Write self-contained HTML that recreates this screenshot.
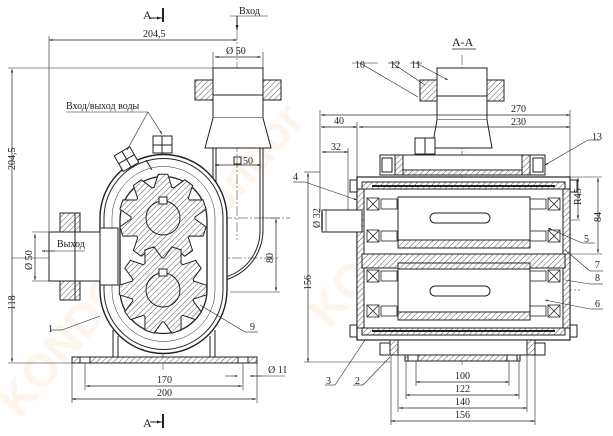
<!DOCTYPE html>
<html><head><meta charset="utf-8"><style>
html,body{margin:0;padding:0;background:#fff}
svg{display:block}
text{font-family:"Liberation Serif",serif;font-size:10px;fill:#222}
</style></head><body>
<svg id="s" width="613" height="436" viewBox="0 0 613 436" xmlns="http://www.w3.org/2000/svg">
<defs>
<pattern id="h" width="4" height="4" patternUnits="userSpaceOnUse" patternTransform="rotate(45)">
<rect width="4" height="4" fill="#fff"/><line x1="0" y1="0" x2="0" y2="4" stroke="#444" stroke-width="0.9"/></pattern>
<marker id="a" viewBox="0 0 10 10" refX="10" refY="5" markerWidth="7" markerHeight="5" orient="auto-start-reverse"><path d="M0,2 L10,5 L0,8z" fill="#222"/></marker>
</defs>
<g opacity="0.08" fill="#f08020" font-family="Liberation Sans" font-weight="bold">
<text x="0" y="0" transform="translate(20,420) rotate(-50)" style="font-size:46px;fill:#f08020;font-family:Liberation Sans">KONDOR.ru</text>
<text x="0" y="0" transform="translate(330,330) rotate(-50)" style="font-size:46px;fill:#f08020;font-family:Liberation Sans">KONDOR.ru</text>
<text x="0" y="0" transform="translate(130,330) rotate(-50)" style="font-size:46px;fill:#f08020;font-family:Liberation Sans">www.kondor</text>
</g>
<g stroke="#222" fill="none" stroke-width="1">
<line x1="163" y1="8" x2="163" y2="22" stroke-width="2"/>
<line x1="150" y1="18" x2="162" y2="18" marker-end="url(#a)"/>
<line x1="163" y1="414" x2="163" y2="428" stroke-width="2"/>
<line x1="150" y1="422" x2="162" y2="422" marker-end="url(#a)"/>
<line x1="237" y1="16" x2="237" y2="30" marker-end="url(#a)"/>
<line x1="230" y1="16" x2="268" y2="16" stroke-width="0.6"/>
<line x1="49" y1="40" x2="237" y2="40" marker-start="url(#a)" marker-end="url(#a)" stroke-width="0.7"/>
<line x1="49" y1="36" x2="49" y2="240" stroke-width="0.6"/>
<line x1="215" y1="57" x2="261" y2="57" marker-start="url(#a)" marker-end="url(#a)" stroke-width="0.7"/>
<line x1="213" y1="52" x2="213" y2="68" stroke-width="0.6"/><line x1="263" y1="52" x2="263" y2="68" stroke-width="0.6"/>
<line x1="8" y1="68" x2="213" y2="68" stroke-width="0.6"/>
<line x1="12" y1="69" x2="12" y2="362" marker-start="url(#a)" marker-end="url(#a)" stroke-width="0.7"/>
<line x1="8" y1="363" x2="72" y2="363" stroke-width="0.6"/>
<line x1="12" y1="258" x2="40" y2="258" stroke-width="0.6"/>
<line x1="35" y1="234" x2="35" y2="280" marker-start="url(#a)" marker-end="url(#a)" stroke-width="0.7"/>
<line x1="32" y1="232" x2="49" y2="232" stroke-width="0.6"/><line x1="32" y1="281" x2="49" y2="281" stroke-width="0.6"/>
<line x1="276" y1="219" x2="276" y2="291" marker-start="url(#a)" marker-end="url(#a)" stroke-width="0.7"/>
<line x1="263" y1="218" x2="280" y2="218" stroke-width="0.6"/><line x1="230" y1="292" x2="280" y2="292" stroke-width="0.6"/>
<line x1="215" y1="165" x2="261" y2="165" marker-start="url(#a)" marker-end="url(#a)" stroke-width="0.7"/>
<line x1="86" y1="386" x2="242" y2="386" marker-start="url(#a)" marker-end="url(#a)" stroke-width="0.7"/>
<line x1="72" y1="399" x2="256" y2="399" marker-start="url(#a)" marker-end="url(#a)" stroke-width="0.7"/>
<line x1="85" y1="360" x2="85" y2="390" stroke-width="0.6"/><line x1="243" y1="360" x2="243" y2="390" stroke-width="0.6"/>
<line x1="72" y1="363" x2="72" y2="403" stroke-width="0.6"/><line x1="257" y1="363" x2="257" y2="403" stroke-width="0.6"/>
<line x1="225" y1="376" x2="238" y2="376" marker-end="url(#a)" stroke-width="0.6"/>
<line x1="262" y1="376" x2="250" y2="376" marker-end="url(#a)" stroke-width="0.6"/>
<line x1="250" y1="376" x2="285" y2="376" stroke-width="0.6"/>
<g stroke-dasharray="10 2 2 2" stroke-width="0.5">
<line x1="237" y1="30" x2="237" y2="240"/><line x1="163" y1="140" x2="163" y2="370"/>
<line x1="40" y1="258" x2="280" y2="258"/><line x1="110" y1="218" x2="290" y2="218"/>
<line x1="110" y1="290" x2="220" y2="290"/>
<line x1="462" y1="55" x2="462" y2="365"/>
<line x1="330" y1="220" x2="580" y2="220"/><line x1="370" y1="290" x2="580" y2="290"/>
</g>
<rect x="213" y="68" width="50" height="50" fill="#fff"/>
<rect x="195" y="80" width="18" height="20" fill="url(#h)"/><rect x="263" y="80" width="18" height="20" fill="url(#h)"/>
<line x1="213" y1="95" x2="263" y2="95"/>
<path d="M213,118 L205,148 L271,148 L263,118" fill="#fff"/>
<path d="M213,148 L213,230 M263,148 L263,230 M216,148 L216,230 M260,148 L260,232"/>
<path d="M263,230 A52,52 0 0 1 211,282 M260,232 A48,48 0 0 1 212,279"/>
<rect x="234" y="157" width="7" height="7"/>
<path d="M100,218 A63,63 0 0 1 227,218 L227,290 A63,63 0 0 1 100,290 Z" stroke-width="1.4" fill="#fff"/>
<path d="M104,218 A59,59 0 0 1 223,218 L223,290 A59,59 0 0 1 104,290 Z"/>
<path d="M112,218 A51,51 0 0 1 215,218 L215,290 A51,51 0 0 1 112,290 Z" stroke-width="0.5"/>
<path d="M120,220 A43,43 0 0 1 207,220 L207,290 A43,43 0 0 1 120,290 Z" stroke-width="1.3"/>
<path d="M146,160 L152,170" stroke-width="1"/>
<rect x="153" y="136" width="19" height="17" fill="#fff"/><line x1="162" y1="136" x2="162" y2="153"/><line x1="153" y1="145" x2="172" y2="145"/>
<g transform="translate(127,160) rotate(-30)"><rect x="-9" y="-10" width="18" height="18" fill="#fff"/><line x1="0" y1="-10" x2="0" y2="8"/><line x1="-9" y1="-1" x2="9" y2="-1"/></g>
<line x1="66" y1="112" x2="148" y2="112" stroke-width="0.6"/>
<line x1="148" y1="112" x2="127" y2="150" marker-end="url(#a)" stroke-width="0.6"/>
<line x1="148" y1="112" x2="162" y2="134" marker-end="url(#a)" stroke-width="0.6"/>
<rect x="49" y="232" width="51" height="49" fill="#fff"/>
<rect x="100" y="228" width="18" height="57" fill="#fff"/>
<rect x="60" y="213" width="20" height="19" fill="url(#h)"/><rect x="60" y="281" width="20" height="19" fill="url(#h)"/>
<line x1="75" y1="213" x2="75" y2="300"/>
<line x1="42" y1="251" x2="85" y2="251" stroke-width="0.6"/>
<line x1="55" y1="251" x2="42" y2="251" marker-end="url(#a)" stroke-width="0.6"/>
<path d="M113,330 L113,357 M118,336 L118,357 M210,336 L210,357 M215,330 L215,357"/>
<rect x="72" y="357" width="185" height="6" fill="url(#h)"/>
<rect x="80" y="357" width="10" height="6" fill="#fff"/><rect x="238" y="357" width="10" height="6" fill="#fff"/>
<line x1="50" y1="330" x2="62" y2="330" stroke-width="0.6"/><line x1="62" y1="330" x2="100" y2="316" stroke-width="0.6"/>
<line x1="245" y1="332" x2="258" y2="332" stroke-width="0.6"/><line x1="245" y1="332" x2="200" y2="305" stroke-width="0.6"/>

<line x1="452" y1="49" x2="476" y2="49" stroke-width="0.7"/>
<rect x="437" y="68" width="50" height="52" fill="#fff"/>
<rect x="420" y="80" width="17" height="21" fill="url(#h)"/><rect x="487" y="80" width="17" height="21" fill="url(#h)"/>
<line x1="437" y1="96" x2="487" y2="96"/>
<path d="M437,120 L432,148 L492,148 L487,120" fill="#fff"/>
<rect x="415" y="138" width="20" height="16" fill="#fff"/><line x1="425" y1="138" x2="425" y2="154"/>
<line x1="352" y1="63" x2="378" y2="63" stroke-width="0.6"/><line x1="360" y1="63" x2="418" y2="97" stroke-width="0.6"/>
<line x1="388" y1="63" x2="400" y2="63" stroke-width="0.6"/><line x1="392" y1="63" x2="425" y2="85" stroke-width="0.6"/>
<line x1="410" y1="63" x2="422" y2="63" stroke-width="0.6"/><line x1="416" y1="63" x2="448" y2="80" marker-end="url(#a)" stroke-width="0.6"/>
<line x1="321" y1="115" x2="570" y2="115" marker-start="url(#a)" marker-end="url(#a)" stroke-width="0.7"/>
<line x1="321" y1="127" x2="357" y2="127" marker-start="url(#a)" marker-end="url(#a)" stroke-width="0.7"/>
<line x1="359" y1="127" x2="570" y2="127" marker-start="url(#a)" marker-end="url(#a)" stroke-width="0.7"/>
<line x1="322" y1="152" x2="348" y2="152" marker-start="url(#a)" marker-end="url(#a)" stroke-width="0.7"/>
<line x1="320" y1="110" x2="320" y2="212" stroke-width="0.6"/>
<line x1="357" y1="122" x2="357" y2="180" stroke-width="0.6"/>
<line x1="348" y1="148" x2="348" y2="212" stroke-width="0.6"/>
<line x1="570" y1="110" x2="570" y2="178" stroke-width="0.6"/>
<line x1="588" y1="140" x2="600" y2="140" stroke-width="0.6"/><line x1="588" y1="140" x2="545" y2="165" marker-end="url(#a)" stroke-width="0.6"/>
<rect x="380" y="155" width="165" height="20" fill="#fff"/>
<rect x="395" y="155" width="8" height="20" fill="url(#h)"/><rect x="522" y="155" width="8" height="20" fill="url(#h)"/>
<rect x="403" y="170" width="119" height="5" fill="url(#h)"/>
<rect x="382" y="158" width="10" height="14"/><rect x="533" y="158" width="10" height="14"/>
<rect x="357" y="177" width="213" height="163" fill="#fff" stroke-width="1.2"/>
<rect x="362" y="182" width="203" height="153" stroke-width="0.7"/>
<rect x="362" y="182" width="203" height="7" fill="url(#h)"/>
<rect x="362" y="328" width="203" height="7" fill="url(#h)"/>
<rect x="357" y="189" width="7" height="139" fill="url(#h)"/><rect x="563" y="189" width="7" height="139" fill="url(#h)"/>
<line x1="372" y1="186" x2="555" y2="186" stroke-width="2"/>
<line x1="372" y1="331" x2="555" y2="331" stroke-width="2"/>
<rect x="350" y="180" width="7" height="12"/><rect x="570" y="180" width="7" height="12"/>
<rect x="350" y="325" width="7" height="12"/><rect x="570" y="325" width="7" height="12"/>
<rect x="398" y="197" width="132" height="47" fill="#fff"/>
<rect x="398" y="268" width="132" height="47" fill="#fff"/>
<rect x="398" y="240" width="132" height="8" fill="url(#h)"/>
<rect x="362" y="254" width="203" height="14" fill="url(#h)"/>
<rect x="398" y="263" width="132" height="6" fill="url(#h)"/>
<rect x="398" y="312" width="132" height="8" fill="url(#h)"/>
<rect x="430" y="213" width="60" height="10" rx="5"/>
<rect x="430" y="286" width="60" height="10" rx="5"/>
<rect x="322" y="210" width="40" height="22" fill="#fff"/>
<line x1="322" y1="212" x2="322" y2="230" stroke-width="1.4"/>
<g stroke-width="0.8">
<rect x="367" y="198" width="12" height="12"/><path d="M367,198 l12,12 M379,198 l-12,12"/>
<rect x="367" y="230" width="12" height="12"/><path d="M367,230 l12,12 M379,230 l-12,12"/>
<rect x="548" y="198" width="12" height="12"/><path d="M548,198 l12,12 M560,198 l-12,12"/>
<rect x="548" y="230" width="12" height="12"/><path d="M548,230 l12,12 M560,230 l-12,12"/>
<rect x="367" y="270" width="12" height="12"/><path d="M367,270 l12,12 M379,270 l-12,12"/>
<rect x="367" y="305" width="12" height="12"/><path d="M367,305 l12,12 M379,305 l-12,12"/>
<rect x="548" y="270" width="12" height="12"/><path d="M548,270 l12,12 M560,270 l-12,12"/>
<rect x="548" y="305" width="12" height="12"/><path d="M548,305 l12,12 M560,305 l-12,12"/>
<rect x="381" y="199" width="16" height="10"/><rect x="381" y="231" width="16" height="10"/>
<rect x="530" y="199" width="16" height="10"/><rect x="530" y="231" width="16" height="10"/>
<rect x="381" y="271" width="16" height="10"/><rect x="381" y="306" width="16" height="10"/>
<rect x="530" y="271" width="16" height="10"/><rect x="530" y="306" width="16" height="10"/>
</g>
<rect x="390" y="340" width="145" height="15" fill="#fff"/>
<rect x="390" y="340" width="8" height="15" fill="url(#h)"/><rect x="527" y="340" width="8" height="15" fill="url(#h)"/>
<rect x="405" y="355" width="115" height="6" fill="url(#h)"/>
<rect x="408" y="355" width="10" height="6" fill="#fff"/><rect x="507" y="355" width="10" height="6" fill="#fff"/>
<rect x="380" y="343" width="10" height="12"/><rect x="535" y="343" width="10" height="12"/>
<line x1="416" y1="382" x2="509" y2="382" marker-start="url(#a)" marker-end="url(#a)" stroke-width="0.7"/>
<line x1="406" y1="395" x2="519" y2="395" marker-start="url(#a)" marker-end="url(#a)" stroke-width="0.7"/>
<line x1="399" y1="408" x2="527" y2="408" marker-start="url(#a)" marker-end="url(#a)" stroke-width="0.7"/>
<line x1="391" y1="421" x2="535" y2="421" marker-start="url(#a)" marker-end="url(#a)" stroke-width="0.7"/>
<path d="M416,361 V386 M509,361 V386 M406,361 V399 M519,361 V399 M398,355 V412 M527,355 V412 M391,355 V425 M535,355 V425" stroke-width="0.6"/>
<line x1="308" y1="173" x2="308" y2="362" marker-start="url(#a)" marker-end="url(#a)" stroke-width="0.7"/>
<line x1="304" y1="362" x2="390" y2="362" stroke-width="0.6"/>
<line x1="304" y1="172" x2="320" y2="172" stroke-width="0.6"/>
<line x1="578" y1="178" x2="578" y2="219" marker-start="url(#a)" marker-end="url(#a)" stroke-width="0.7"/>
<line x1="598" y1="178" x2="598" y2="253" marker-start="url(#a)" marker-end="url(#a)" stroke-width="0.7"/>
<line x1="570" y1="177" x2="602" y2="177" stroke-width="0.6"/><line x1="565" y1="254" x2="602" y2="254" stroke-width="0.6"/>
<line x1="326" y1="210" x2="326" y2="232" stroke-width="0.6"/>
<line x1="293" y1="182" x2="305" y2="182" stroke-width="0.6"/><line x1="305" y1="182" x2="357" y2="200" marker-end="url(#a)" stroke-width="0.6"/>
<line x1="582" y1="243" x2="595" y2="243" stroke-width="0.6"/><line x1="582" y1="243" x2="548" y2="228" marker-end="url(#a)" stroke-width="0.6"/>
<line x1="590" y1="271" x2="603" y2="271" stroke-width="0.6"/><line x1="590" y1="271" x2="565" y2="250" stroke-width="0.6"/>
<line x1="590" y1="284" x2="603" y2="284" stroke-width="0.6"/><line x1="590" y1="284" x2="565" y2="280" stroke-width="0.6"/>
<line x1="590" y1="309" x2="603" y2="309" stroke-width="0.6"/><line x1="590" y1="309" x2="545" y2="300" marker-end="url(#a)" stroke-width="0.6"/>
<line x1="325" y1="385" x2="335" y2="385" stroke-width="0.6"/><line x1="335" y1="385" x2="365" y2="340" stroke-width="0.6"/>
<line x1="353" y1="385" x2="363" y2="385" stroke-width="0.6"/><line x1="363" y1="385" x2="390" y2="357" stroke-width="0.6"/>
</g>
<g id="gears"></g>
<text x="143" y="19" style="font-size:12px">A</text>
<text x="143" y="427" style="font-size:12px">A</text>
<text x="239" y="14">Вход</text>
<text x="143" y="37">204,5</text>
<text x="226" y="54">Ø 50</text>
<text x="243" y="164">50</text>
<text x="66" y="109">Вход/выход воды</text>
<text x="57" y="247">Выход</text>
<text x="0" y="0" transform="translate(15,170) rotate(-90)">204,5</text>
<text x="0" y="0" transform="translate(15,310) rotate(-90)">118</text>
<text x="0" y="0" transform="translate(32,270) rotate(-90)">Ø 50</text>
<text x="0" y="0" transform="translate(273,263) rotate(-90)">80</text>
<text x="157" y="383">170</text>
<text x="157" y="396">200</text>
<text x="268" y="373">Ø 11</text>
<text x="48" y="332">1</text>
<text x="250" y="330">9</text>
<text x="452" y="46" style="font-size:12px">A-A</text>
<text x="355" y="68">10</text><text x="390" y="68">12</text><text x="411" y="68">11</text>
<text x="511" y="112">270</text><text x="334" y="124">40</text><text x="511" y="125">230</text>
<text x="331" y="150">32</text><text x="592" y="140">13</text>
<text x="293" y="180">4</text><text x="584" y="242">5</text><text x="595" y="268">7</text><text x="595" y="281">8</text><text x="595" y="307">6</text>
<text x="326" y="384">3</text><text x="355" y="384">2</text>
<text x="0" y="0" transform="translate(320,228) rotate(-90)">Ø 32</text>
<text x="0" y="0" transform="translate(311,290) rotate(-90)">156</text>
<text x="0" y="0" transform="translate(581,205) rotate(-90)">R45</text>
<text x="0" y="0" transform="translate(601,222) rotate(-90)">84</text>
<text x="455" y="379">100</text><text x="455" y="392">122</text><text x="455" y="405">140</text><text x="455" y="418">156</text>
</svg>
<script>
function gear(cx,cy,ro,ri,n,ph){var p=[];for(var i=0;i<n;i++){var a=ph+i*2*Math.PI/n,s=Math.PI/n;
[[a-s*0.9,ri],[a-s*0.35,ro],[a+s*0.35,ro],[a+s*0.9,ri]].forEach(function(q){p.push((cx+q[1]*Math.cos(q[0])).toFixed(1)+','+(cy+q[1]*Math.sin(q[0])).toFixed(1))});}
return p.join(' ');}
var g=document.getElementById('gears'),ns='http://www.w3.org/2000/svg';
[[163,218,0],[163,290,Math.PI/10]].forEach(function(c){
var pl=document.createElementNS(ns,'polygon');pl.setAttribute('points',gear(c[0],c[1],44,32,10,c[2]-Math.PI/2));
pl.setAttribute('fill','url(#h)');pl.setAttribute('stroke','#222');g.appendChild(pl);
var ci=document.createElementNS(ns,'circle');ci.setAttribute('cx',c[0]);ci.setAttribute('cy',c[1]);ci.setAttribute('r',17);
ci.setAttribute('fill','url(#h)');ci.setAttribute('stroke','#222');g.appendChild(ci);
var r=document.createElementNS(ns,'rect');r.setAttribute('x',c[0]-4);r.setAttribute('y',c[1]-21);r.setAttribute('width',8);r.setAttribute('height',7);
r.setAttribute('fill','#fff');r.setAttribute('stroke','#222');g.appendChild(r);});
</script>
</body></html>
